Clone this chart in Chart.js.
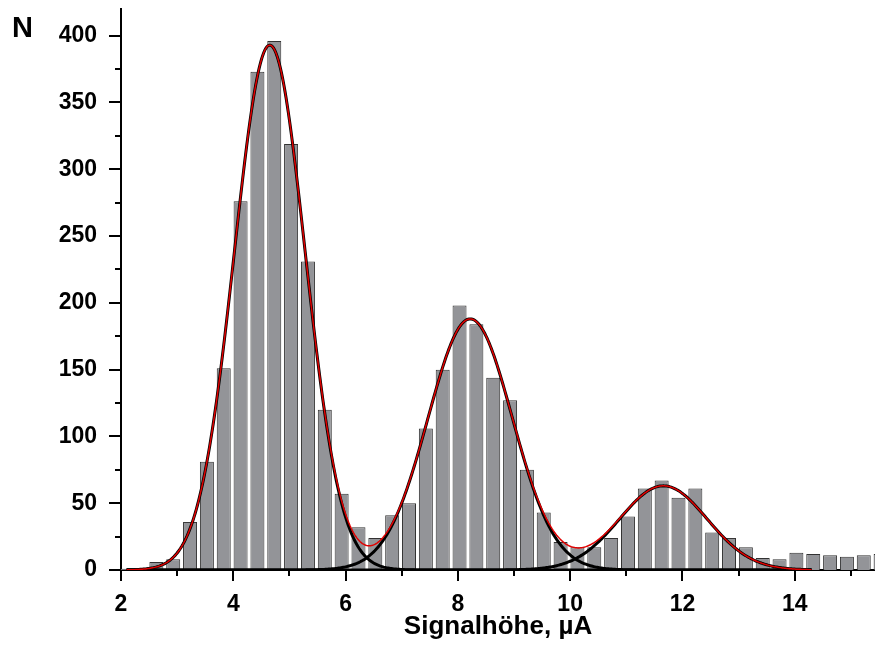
<!DOCTYPE html>
<html>
<head>
<meta charset="utf-8">
<title>Signalhöhe</title>
<script src="https://cdn.jsdelivr.net/npm/chart.js@4.4.1/dist/chart.umd.min.js"></script>
<style>
    html, body { margin: 0; padding: 0; background: #fff; }
    canvas { display: block; }
</style>
</head>
<body>
<canvas id="histogram" width="875" height="652"></canvas>
<script>
// bin centres, µA
var binCenters = [2.03, 2.33, 2.63, 2.93, 3.23, 3.53, 3.83, 4.13, 4.43, 4.73,
                  5.03, 5.33, 5.63, 5.93, 6.23, 6.53, 6.83, 7.13, 7.43, 7.73,
                  8.03, 8.33, 8.63, 8.93, 9.23, 9.53, 9.83, 10.13, 10.43, 10.73,
                  11.03, 11.33, 11.63, 11.93, 12.23, 12.53, 12.83, 13.13, 13.43, 13.73,
                  14.03, 14.33, 14.63, 14.93, 15.23, 15.53];
// counts N per bin
var counts = [1, 0, 6, 8, 36, 81, 151, 276, 373, 396,
              319, 231, 120, 57, 32, 24, 41, 50, 106, 150,
              198, 184, 144, 127, 75, 43, 21, 17, 17, 24,
              40, 61, 67, 54, 61, 28, 24, 17, 9, 8,
              13, 12, 11, 10, 11, 12];

// gaussian fit peaks
var peakCenters = [4.65, 8.22, 11.66];
var peakHeights = [393, 188, 63];
var peakSigmas = [0.63, 0.75, 0.78];
var fitRange = [2.1, 14.3];

// labelled ticks
var xTickValues = [2, 4, 6, 8, 10, 12, 14];
var yTickValues = [0, 50, 100, 150, 200, 250, 300, 350, 400];

Chart.defaults.font.family = "'Liberation Sans', Arial, sans-serif";
Chart.defaults.color = '#000';

var bars = binCenters.map(function (x, i) { return { x: x, y: counts[i] }; });

// fit curves
var fitX = [];
for (var t = fitRange[0]; t <= fitRange[1] + 1e-9; t += 0.02) fitX.push(t);

function peakCurve(k) {
    return fitX.map(function (x) {
        var d = (x - peakCenters[k]) / peakSigmas[k];
        return { x: x, y: peakHeights[k] * Math.exp(-0.5 * d * d) };
    });
}
var sumCurve = fitX.map(function (x) {
    var s = 0;
    for (var k = 0; k < peakCenters.length; k++) {
        var d = (x - peakCenters[k]) / peakSigmas[k];
        s += peakHeights[k] * Math.exp(-0.5 * d * d);
    }
    return { x: x, y: s };
});

function lineSet(data, color, width, order) {
    return {
        type: 'line',
        data: data,
        borderColor: color,
        borderWidth: width,
        pointRadius: 0,
        fill: false,
        tension: 0,
        order: order
    };
}

// minor / major tick marks and the N label
var axisExtras = {
    id: 'axisExtras',
    afterDraw: function (chart) {
        var ctx = chart.ctx;
        var xs = chart.scales.x, ys = chart.scales.y;
        var area = chart.chartArea;
        ctx.save();
        ctx.strokeStyle = '#000';
        ctx.lineWidth = 2;
        ctx.beginPath();
        ys.ticks.forEach(function (tk) {
            var py = Math.round(ys.getPixelForValue(tk.value));
            var len = yTickValues.indexOf(tk.value) >= 0 ? 12 : 6;
            ctx.moveTo(area.left, py);
            ctx.lineTo(area.left - len, py);
        });
        xs.ticks.forEach(function (tk) {
            var px = Math.round(xs.getPixelForValue(tk.value));
            var len = xTickValues.indexOf(tk.value) >= 0 ? 11 : 6;
            ctx.moveTo(px, area.bottom);
            ctx.lineTo(px, area.bottom + len);
        });
        ctx.stroke();
        ctx.fillStyle = '#000';
        ctx.font = "bold 29px 'Liberation Sans', Arial, sans-serif";
        ctx.textBaseline = 'alphabetic';
        ctx.fillText('N', 12, 37);
        ctx.restore();
    }
};

var histogram = new Chart(document.getElementById('histogram'), {
    type: 'bar',
    data: {
        datasets: [
            lineSet(sumCurve, '#e00000', 1.5, 1),
            lineSet(peakCurve(0), '#000', 3, 2),
            lineSet(peakCurve(1), '#000', 3, 2),
            lineSet(peakCurve(2), '#000', 3, 2),
            {
                type: 'bar',
                data: bars,
                backgroundColor: 'rgb(147,148,152)',
                borderColor: 'rgb(50,50,50)',
                borderWidth: 1,
                barPercentage: 0.83,
                categoryPercentage: 1,
                order: 3
            }
        ]
    },
    options: {
        responsive: false,
        animation: false,
        layout: { padding: { top: 9, left: 0, right: 0, bottom: 0 } },
        plugins: { legend: { display: false }, tooltip: { enabled: false } },
        scales: {
            x: {
                type: 'linear',
                offset: false,
                min: 2,
                max: 15.43,
                grid: { display: false, drawTicks: false, offset: false },
                border: { display: true, color: '#000', width: 2 },
                ticks: {
                    stepSize: 1,
                    autoSkip: false,
                    includeBounds: false,
                    maxRotation: 0,
                    padding: 21,
                    font: { size: 23, weight: 'bold' },
                    callback: function (v) { return xTickValues.indexOf(v) >= 0 ? String(v) : ''; }
                },
                title: {
                    display: true,
                    text: 'Signalhöhe, µA',
                    font: { size: 26, weight: 'bold' },
                    padding: { top: 0, bottom: 10 }
                },
                afterFit: function (scale) {
                    scale.height = 82;
                    scale.paddingLeft = 0;
                    scale.paddingRight = 0;
                }
            },
            y: {
                min: 0,
                max: 420,
                grid: { display: false, drawTicks: false },
                border: { display: true, color: '#000', width: 2 },
                ticks: {
                    stepSize: 25,
                    autoSkip: false,
                    includeBounds: false,
                    padding: 24,
                    font: { size: 23, weight: 'bold' },
                    callback: function (v) { return yTickValues.indexOf(v) >= 0 ? String(v) : ''; }
                },
                afterFit: function (scale) {
                    scale.width = 121;
                    scale.paddingTop = 0;
                    scale.paddingBottom = 0;
                }
            }
        }
    },
    plugins: [axisExtras]
});
</script>
</body>
</html>
